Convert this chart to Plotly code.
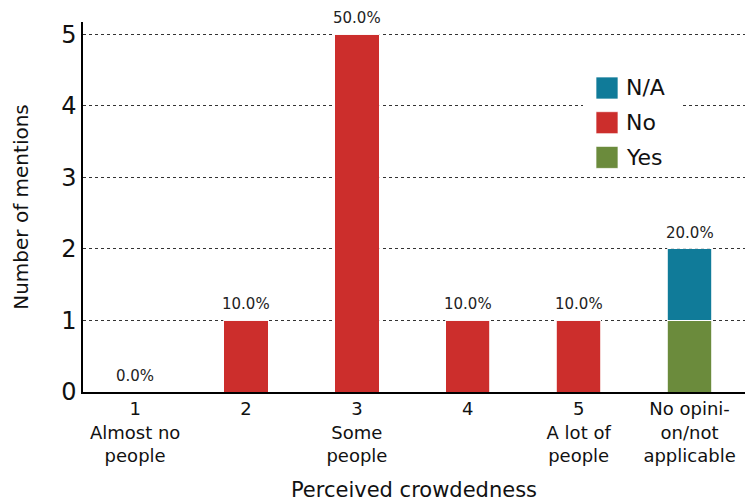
import plotly.graph_objects as go

categories = ["1<br>Almost no<br>people", "2", "3<br>Some<br>people", "4",
              "5<br>A lot of<br>people", "No opini-<br>on/not<br>applicable"]
yes_vals = [0, 0, 0, 0, 0, 1]
no_vals = [0, 1, 5, 1, 1, 0]
na_vals = [0, 0, 0, 0, 0, 1]
pct_labels = ["0.0%", "10.0%", "50.0%", "10.0%", "10.0%", "20.0%"]
legend_order = ["N/A", "No", "Yes"]

FONT = "DejaVu Sans"
colors = {"Yes": "#6b8b3c", "No": "#cc2e2c", "N/A": "#107b99"}
idx = list(range(len(categories)))

W, H = 745, 502
ML, MR, MT, MB = 83, 0, 22, 110
PW, PH = W - ML - MR, H - MT - MB

def px_x(p):
    return (p - ML) / PW

def px_y(p):
    return (H - MB - p) / PH

fig = go.Figure()
for name, vals in [("Yes", yes_vals), ("No", no_vals), ("N/A", na_vals)]:
    fig.add_trace(go.Bar(
        x=idx, y=vals, name=name, width=0.4, showlegend=False,
        marker=dict(color=colors[name], line=dict(color="rgba(255,255,255,0.8)", width=1)),
    ))

totals = [a + b + c for a, b, c in zip(yes_vals, no_vals, na_vals)]
for i, tot, lab in zip(idx, totals, pct_labels):
    fig.add_annotation(x=i, y=tot, text=lab, showarrow=False, yanchor="bottom",
                       yshift=5, font=dict(family=FONT, size=15, color="#222"))

# manual legend (white box + large squares)
fig.add_shape(type="rect", xref="paper", yref="paper", layer="above",
              x0=px_x(583), x1=px_x(682), y0=px_y(172), y1=px_y(68),
              fillcolor="white", line=dict(width=0))
for k, name in enumerate(legend_order):
    top = 77 + k * 34.7
    fig.add_shape(type="rect", xref="paper", yref="paper", layer="above",
                  x0=px_x(596), x1=px_x(618), y0=px_y(top + 22), y1=px_y(top),
                  fillcolor=colors[name], line=dict(color="rgba(255,255,255,0.7)", width=1))
    fig.add_annotation(xref="paper", yref="paper", x=px_x(624), y=px_y(top + 11),
                       xanchor="left", yanchor="middle", text=name, showarrow=False,
                       font=dict(family=FONT, size=22, color="#111"))

fig.update_layout(
    width=W, height=H,
    margin=dict(l=ML, r=MR, t=MT, b=MB),
    barmode="stack",
    plot_bgcolor="white", paper_bgcolor="white",
    font=dict(family=FONT, color="#111"),
    showlegend=False,
    xaxis=dict(range=[-0.47, 5.5], showline=True, linecolor="black",
               linewidth=1.5, ticks="", tickmode="array", tickvals=idx, ticktext=categories,
               tickfont=dict(family=FONT, size=18), showgrid=False, zeroline=False,
               title=dict(text="Perceived crowdedness", font=dict(family=FONT, size=21), standoff=18)),
    yaxis=dict(range=[0, 5.17], showline=True, linecolor="black", linewidth=1.5,
               showgrid=True, gridcolor="#333", griddash="dot", gridwidth=1,
               dtick=1, ticks="", tickfont=dict(family=FONT, size=24), zeroline=False,
               title=dict(text="Number of mentions", font=dict(family=FONT, size=20), standoff=27)),
)

fig.write_html("out.html")
